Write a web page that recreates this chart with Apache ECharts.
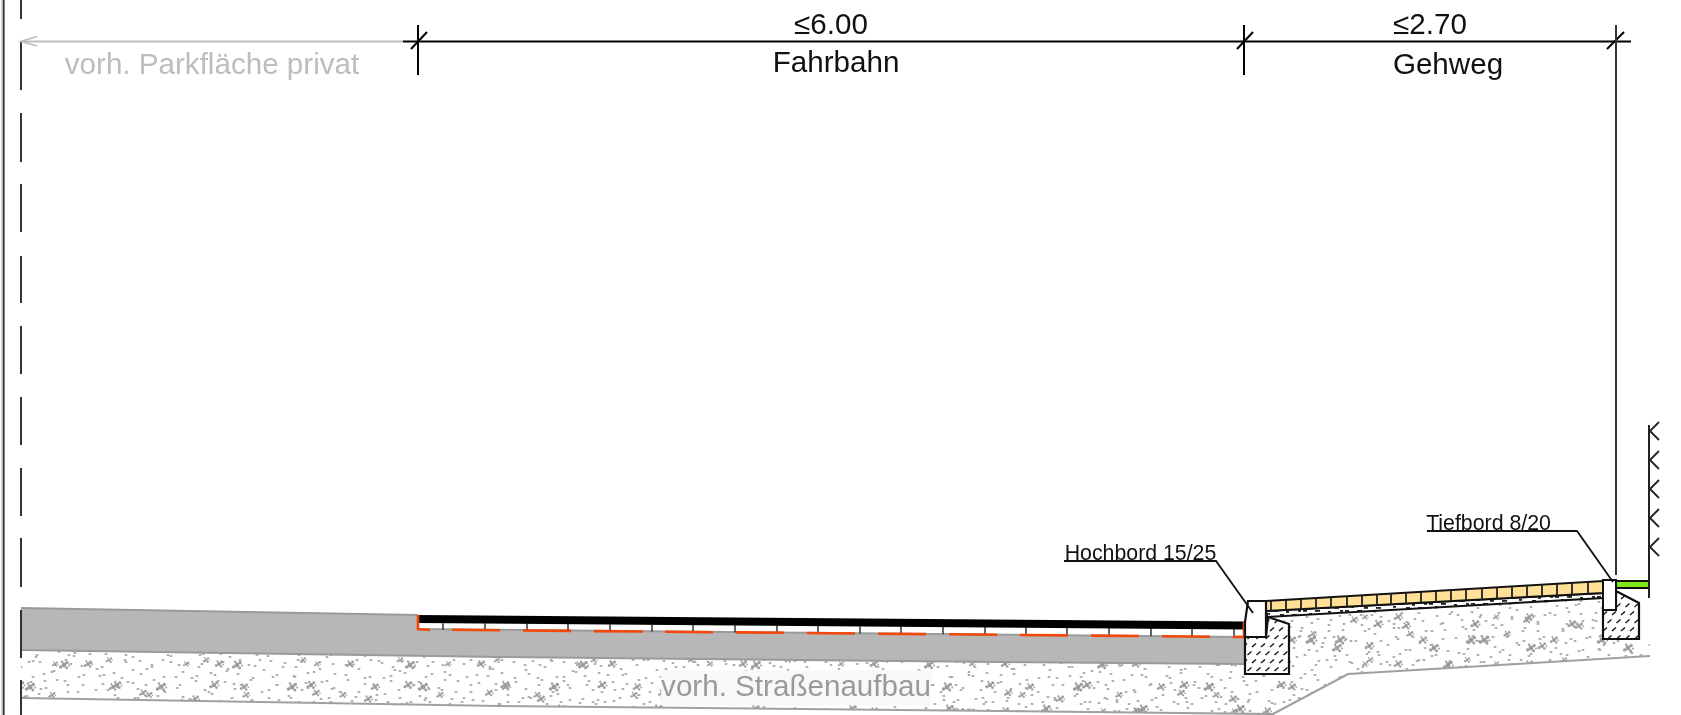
<!DOCTYPE html>
<html>
<head>
<meta charset="utf-8">
<style>html,body{margin:0;padding:0;background:#fff}#c{width:1681px;height:715px}</style>
<script src="https://cdn.jsdelivr.net/npm/echarts@6/dist/echarts.min.js"></script>
</head>
<body>
<div id="c"></div>
<script>
// ---------- drawing data (drawing units) ----------
const gravelArea = [[21,650],[500,657],[1000,662],[1244,664],[1267,617],[1603,598],[1640,640],[1650,640],[1650,656],[1500,665],[1348,674],[1273,714],[1000,711],[500,706],[21,698]];
const gravelLowerEdge = [[21,698],[500,706],[1000,711],[1273,714],[1348,674],[1500,665],[1650,656]];
const asphaltArea = [[21,608],[418,615],[418,629],[1244,637],[1244,664],[1000,662],[500,657],[21,650]];
const asphaltTopEdge = [[21,608],[418,615]];
const asphaltBottomEdge = [[21,650],[500,657],[1000,662],[1244,664]];
const roadBlackLayer = [[418,615],[1244,621.5],[1244,629.5],[418,623]];
const roadPaverLayer = [[418,623],[1244,629],[1244,637],[418,629]];
const roadPaverBase = [[418,629],[1244,637]];
const roadPaverJoints = [443,485,527,568,610,652,693,735,777,818,860,901,943,985,1026,1067,1109,1151,1192,1234];
const membraneDashes = [[452,500],[523,571],[594,643],[665,713],[736,784],[807,855],[878,926],[949,997],[1020,1068],[1091,1139],[1162,1210],[1233,1244]];
const membraneLeft = [[418,615],[418,629],[430,630]];
const membraneRight = [[1244,622],[1244,637]];
const curbHigh = [[1248,601],[1266,601],[1266,637],[1245,637],[1245,622]];
const curbHighBase = [[1245,637],[1266,637],[1268,617],[1289,624],[1289,674],[1245,674]];
const walkPaver = [[1266,601],[1603,581],[1603,593],[1266,611]];
const walkBedding = [[1266,611],[1603,593],[1603,598],[1267,617]];
const walkPaverJoints = [1271,1286,1301,1316,1331,1347,1362,1377,1391,1406,1421,1436,1451,1466,1482,1497,1512,1527,1542,1557,1572,1588];
const curbLow = [[1603,580],[1616,580],[1616,610],[1603,610]];
const curbLowBase = [[1603,610],[1616,610],[1616,591],[1639,603],[1639,639],[1603,639]];
const greenStrip = [[1616,581],[1649,581],[1649,588],[1616,588]];
const fenceLine = [[1649,425],[1649,598]];
const fenceChevrons = [431,460,489,518,547];
const centerDashes = [[-29,19],[42,90],[113,162],[184,232],[256,303],[326,374],[397,445],[468,516],[538,587],[610,658],[680,729]];
const frameLines = [[2,'#b0b0b0',1],[3.7,'#333333',1.8]];
const dimBlack = [[403,41.5],[1631,41.5]];
const dimGrey = [[21,41.5],[403,41.5]];
const dimArrow = [[37,36.5],[21,41.5],[37,46]];
const dimTicks = [[418,25,418,75],[1244,25,1244,75],[411,49,427,32],[1237,49,1253,32],[1607,49,1624,32]];
const dimRight = [[1616,25],[1616,575]];
const leaderHigh = [[1064,561],[1216,561],[1253,613]];
const leaderLow = [[1427,531],[1577,531],[1613,582]];
// label: text, x, y (baseline), size, colour
const labels = [
  ['\u22646.00',831,36,29.6,'#111111'],
  ['Fahrbahn',836,74,29.6,'#111111'],
  ['\u22642.70',1430,36,29.6,'#111111'],
  ['Gehweg',1448,76,29.6,'#111111'],
  ['vorh. Parkfl\u00e4che privat',212,75.5,29.6,'#bdbdbd'],
  ['Hochbord 15/25',1140.5,561,21.3,'#111111'],
  ['Tiefbord 8/20',1488.5,531,21.3,'#111111']
];
const roadLabel = ['vorh. Stra\u00dfenaufbau',796,698,29.6,'#9a9a9a'];

// ---------- texture tiles (hand placed specks: [x,y]; clumps: [x,y,r]) ----------
const specksA = [[3,5],[11,19],[17,2],[23,31],[9,44],[31,11],[38,27],[29,52],[44,3],[48,40],[41,18],[57,9],[62,33],[55,55],[68,21],[74,46],[79,6],[85,29],[91,53],[83,14],[14,33],[36,47],[5,57],[66,50]];
const clumpsA = [[20,14,2.2],[52,24,1.7],[76,38,2.4],[12,50,1.6]];
const specksB = [[2,12],[9,3],[15,27],[21,9],[27,38],[33,19],[40,4],[46,30],[52,14],[59,41],[65,23],[71,6],[78,34],[84,17],[90,43],[97,11],[103,26],[109,2],[115,37],[122,20],[126,44],[7,40],[37,44],[69,44]];
const clumpsB = [[30,29,2.5],[88,6,2],[113,29,2],[55,6,1.5]];
const specksC = [[6,8],[14,55],[19,21],[26,66],[33,4],[39,37],[47,61],[54,14],[61,46],[68,28],[75,69],[82,9],[89,52],[96,33],[104,18],[111,63],[118,41],[125,3],[133,26],[140,57],[147,12],[154,47],[161,31],[167,68],[10,40],[45,24],[79,43],[123,53]];
const clumpsC = [[22,42,2],[64,8,2.4],[100,56,2.6],[143,36,1.9],[158,62,2.1]];
const beddingMarks = [[1,1,4],[7,4,3],[13,1,5],[20,5,4],[26,2,3],[32,5,5],[38,1,3]];

function gravelTile(w,h,specks,clumps){
  const c=document.createElement('canvas');c.width=w;c.height=h;
  const g=c.getContext('2d');
  g.fillStyle='#a8a8a8';
  specks.forEach(d=>{g.beginPath();g.ellipse(d[0],d[1],1.6,1,0,0,7);g.fill();});
  g.fillStyle='#9c9c9c';
  clumps.forEach(d=>{
    [[0,0,1],[1.3,-1,.7],[-1.4,.8,.7],[1.1,1.2,.6],[-.8,-1.4,.5],[2.1,.2,.4]].forEach(o=>{
      g.beginPath();g.arc(d[0]+o[0]*d[2],d[1]+o[1]*d[2],d[2]*o[2],0,7);g.fill();
    });
  });
  return c;
}
function hatchTile(){
  const c=document.createElement('canvas');c.width=9;c.height=16;
  const g=c.getContext('2d');g.fillStyle='#ffffff';g.fillRect(0,0,9,16);
  g.strokeStyle='#111111';g.lineWidth=1.4;
  [[1,7,5,3.5],[5.5,15,9.5,11.5],[-3.5,15,.5,11.5]].forEach(s=>{g.beginPath();g.moveTo(s[0],s[1]);g.lineTo(s[2],s[3]);g.stroke();});
  return c;
}
function beddingTile(){
  const c=document.createElement('canvas');c.width=42;c.height=7;
  const g=c.getContext('2d');g.fillStyle='#ffffff';g.fillRect(0,0,42,7);
  g.fillStyle='#222222';
  beddingMarks.forEach(d=>g.fillRect(d[0],d[1],d[2],1.8));
  return c;
}

// ---------- series helpers ----------
let order=1;
function polygon(name,pts,fill,stroke,lw){
  return {type:'custom',name,coordinateSystem:'cartesian2d',silent:true,clip:false,z:order++,data:pts,
    renderItem(p,api){
      if(p.dataIndex!==0) return null;
      return {type:'polygon',shape:{points:pts.map(q=>api.coord(q))},
        style:{fill,stroke:stroke||null,lineWidth:lw||0,lineJoin:'miter'}};
    }};
}
function polyline(name,pts,color,width){
  return {type:'line',name,data:pts,showSymbol:false,silent:true,z:order++,clip:false,
    lineStyle:{color,width,cap:'butt',join:'miter'},animation:false};
}
function segments(name,rows,color,width){
  return {type:'custom',name,coordinateSystem:'cartesian2d',silent:true,clip:false,z:order++,data:rows,
    renderItem(p,api){
      const a=api.coord([api.value(0),api.value(1)]),b=api.coord([api.value(2),api.value(3)]);
      return {type:'line',shape:{x1:a[0],y1:a[1],x2:b[0],y2:b[1]},style:{stroke:color,lineWidth:width,fill:null}};
    }};
}
function onLine(line,x){
  for(let i=0;i<line.length-1;i++){
    const a=line[i],b=line[i+1];
    if(x>=a[0]&&x<=b[0]) return a[1]+(b[1]-a[1])*(x-a[0])/(b[0]-a[0]);
  }
  return line[line.length-1][1];
}
function texts(name,rows,bg){
  return {type:'custom',name,coordinateSystem:'cartesian2d',silent:true,clip:false,z:order++,data:rows.map(r=>[r[1],r[2]]),
    renderItem(p,api){
      const r=rows[p.dataIndex],a=api.coord([r[1],r[2]-r[3]*0.34]);
      return {type:'text',style:{text:r[0],x:a[0],y:a[1],fill:r[4],align:'center',verticalAlign:'middle',
        font:r[3]+'px "Liberation Sans", Arial, sans-serif',backgroundColor:bg||null,padding:bg?[2,0,3,0]:0}};
    }};
}

const blackBot=[[418,623],[1244,629]],orange=[[418,629.5],[1244,637]];
const walkTop=[[1266,601],[1603,581]],walkBot=[[1266,611],[1603,593]];
const ORANGE='#f4470a';

const series=[
  polygon('gravel base',gravelArea,'#ffffff'),
  polygon('gravel a',gravelArea,{image:gravelTile(97,61,specksA,clumpsA),repeat:'repeat'}),
  polygon('gravel b',gravelArea,{image:gravelTile(131,47,specksB,clumpsB),repeat:'repeat'}),
  polygon('gravel c',gravelArea,{image:gravelTile(173,73,specksC,clumpsC),repeat:'repeat'}),
  polyline('gravel edge',gravelLowerEdge,'#a0a0a0',2.2),
  polygon('asphalt',asphaltArea,'#b7b7b7'),
  polyline('asphalt top',asphaltTopEdge,'#9a9a9a',2.2),
  polyline('asphalt bottom',asphaltBottomEdge,'#9a9a9a',2.2),
  polygon('paver layer',roadPaverLayer,'#ffffff'),
  polyline('paver base',roadPaverBase,'#9a9a9a',2),
  segments('paver joints',roadPaverJoints.map(x=>[x,onLine(blackBot,x),x,onLine(orange,x)]),'#333333',1.5),
  polygon('black layer',roadBlackLayer,'#000000'),
  segments('membrane',membraneDashes.map(d=>[d[0],onLine(orange,d[0]),d[1],onLine(orange,d[1])]),ORANGE,2.6),
  polyline('membrane left',membraneLeft,ORANGE,2.6),
  polyline('membrane right',membraneRight,ORANGE,2.6),
  polygon('walk bedding',walkBedding,{image:beddingTile(),repeat:'repeat'},'#111111',2),
  polygon('walk paver',walkPaver,'#ffe096','#111111',2),
  segments('walk joints',walkPaverJoints.map(x=>[x,onLine(walkTop,x),x,onLine(walkBot,x)]),'#222222',1.8),
  polygon('high curb base',curbHighBase,{image:hatchTile(),repeat:'repeat'},'#111111',2.2),
  polygon('high curb',curbHigh,'#ffffff','#111111',2.2),
  polygon('low curb base',curbLowBase,{image:hatchTile(),repeat:'repeat'},'#111111',2.2),
  polygon('low curb',curbLow,'#ffffff','#111111',2),
  polygon('green strip',greenStrip,'#80e818','#111111',2),
  polyline('fence',fenceLine,'#222222',2),
  segments('fence marks',fenceChevrons.flatMap(y=>[[1650,y,1659,y-9],[1650,y,1659,y+9]]),'#222222',1.8),
  segments('centre line',centerDashes.map(d=>[21,d[0],21,d[1]]),'#333333',2),
  segments('frame',[[frameLines[0][0],0,frameLines[0][0],715]],frameLines[0][1],frameLines[0][2]),
  segments('frame dark',[[frameLines[1][0],0,frameLines[1][0],715]],frameLines[1][1],frameLines[1][2]),
  polyline('dim grey',dimGrey,'#bdbdbd',2),
  polyline('dim arrow',dimArrow,'#bdbdbd',1.8),
  polyline('dim black',dimBlack,'#000000',2),
  segments('dim ticks',dimTicks,'#000000',2),
  polyline('dim right',dimRight,'#333333',2),
  polyline('leader high',leaderHigh,'#111111',1.8),
  polyline('leader low',leaderLow,'#111111',1.8),
  texts('labels',labels),
  texts('road label',[roadLabel],'#f8f8f8')
];

const chart=echarts.init(document.getElementById('c'),null,{renderer:'canvas'});
chart.setOption({
  animation:false,
  backgroundColor:'#ffffff',
  grid:{left:0,right:0,top:0,bottom:0},
  xAxis:{type:'value',min:0,max:1681,show:false},
  yAxis:{type:'value',min:0,max:715,inverse:true,show:false},
  series
});
</script>
</body>
</html>
